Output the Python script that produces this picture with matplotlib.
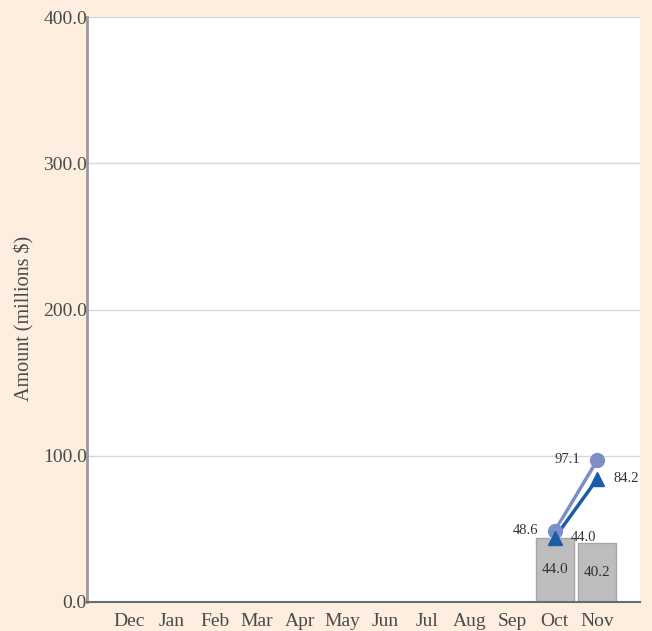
import matplotlib.pyplot as plt
import matplotlib.patheffects as pe

# ======== DATA ========
months = ["Dec", "Jan", "Feb", "Mar", "Apr", "May", "Jun", "Jul", "Aug", "Sep", "Oct", "Nov"]
bar_values = [None, None, None, None, None, None, None, None, None, None, 44.0, 40.2]
circle_values = [None, None, None, None, None, None, None, None, None, None, 48.6, 97.1]
triangle_values = [None, None, None, None, None, None, None, None, None, None, 44.0, 84.2]
y_ticks = [0, 100, 200, 300, 400]
# ======================

BG = "#fdeee0"
TEXT = "#4a4a4a"
CIRCLE_COLOR = "#7b8fc6"
TRIANGLE_COLOR = "#1c5ba6"

plt.rcParams["font.family"] = ["Liberation Serif", "DejaVu Serif"]

fig = plt.figure(figsize=(6.52, 6.31), dpi=100, facecolor=BG)
ax = fig.add_axes([0.1334, 0.046, 0.848, 0.927])
ax.set_facecolor("white")

x = list(range(len(months)))

# bars
bx = [i for i, v in zip(x, bar_values) if v is not None]
bv = [v for v in bar_values if v is not None]
ax.bar(bx, bv, width=0.9, color="#bdbdbd", edgecolor="#a5a5a5", linewidth=1, zorder=2)
for i, v in zip(bx, bv):
    ax.text(i, v / 2, f"{v:.1f}", ha="center", va="center", fontsize=11, color="#333333", zorder=6)

outline = [pe.Stroke(linewidth=5, foreground="white"), pe.Normal()]

# circle series
cx = [i for i, v in zip(x, circle_values) if v is not None]
cv = [v for v in circle_values if v is not None]
ax.plot(cx, cv, color=CIRCLE_COLOR, linewidth=2.5, path_effects=outline, zorder=3)
ax.plot(cx, cv, linestyle="none", marker="o", markersize=10, color=CIRCLE_COLOR, zorder=5)
for i, v in zip(cx, cv):
    ax.text(i - 0.4, v, f"{v:.1f}", ha="right", va="center", fontsize=10.5, color="#333333", zorder=6)

# triangle series
tx = [i for i, v in zip(x, triangle_values) if v is not None]
tv = [v for v in triangle_values if v is not None]
ax.plot(tx, tv, color=TRIANGLE_COLOR, linewidth=2.5, path_effects=outline, zorder=4)
ax.plot(tx, tv, linestyle="none", marker="^", markersize=10, color=TRIANGLE_COLOR, zorder=5)
for i, v in zip(tx, tv):
    ax.text(i + 0.38, v, f"{v:.1f}", ha="left", va="center", fontsize=10.5, color="#333333", zorder=6)

ax.set_xlim(-1, 12)
ax.set_ylim(0, 400)
ax.set_xticks(x)
ax.set_xticklabels(months)
ax.set_yticks(y_ticks)
ax.set_yticklabels([f"{t:.1f}" for t in y_ticks])
ax.tick_params(axis="both", length=0, labelsize=14, colors=TEXT)
ax.tick_params(axis="y", pad=0)
ax.tick_params(axis="x", pad=8)
ax.yaxis.grid(True, color="#d4d8de", linewidth=1)
ax.set_axisbelow(True)

ax.set_ylabel("Amount (millions $)", fontsize=14.5, color=TEXT)
ax.yaxis.set_label_coords(-0.095, 0.485)

for side in ["top", "right"]:
    ax.spines[side].set_visible(False)
ax.spines["left"].set_color("#9a9a9a")
ax.spines["left"].set_linewidth(2)
ax.spines["bottom"].set_color("#6a6a6a")
ax.spines["bottom"].set_linewidth(1.5)

fig.savefig("out.png", dpi=100, facecolor=BG)
